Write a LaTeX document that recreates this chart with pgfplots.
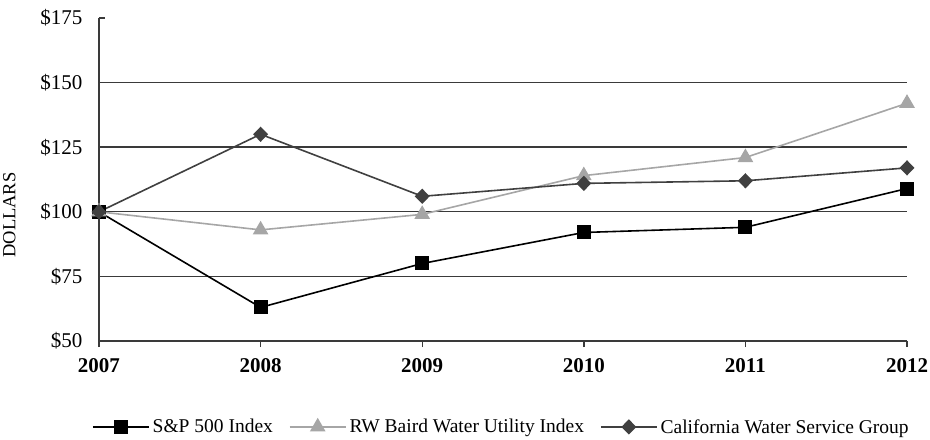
\documentclass[border=0pt]{standalone}
\usepackage{fontspec}
\setmainfont{Liberation Serif}
\usepackage{pgfplots}
\pgfplotsset{compat=1.18}
\definecolor{gridc}{HTML}{3A3A3A}
\definecolor{rwc}{HTML}{A6A6A6}
\definecolor{cwc}{HTML}{404040}
\begin{document}
\begin{tikzpicture}
\begin{axis}[
  name=ax,
  scale only axis,
  width=808bp, height=323bp,
  xmin=2007, xmax=2012, ymin=50, ymax=175,
  axis x line=bottom, axis y line=left,
  axis line style={-, gridc, line width=1.4bp},
  xtick={2007,2008,2009,2010,2011,2012},
  xticklabels={\textbf{2007},\textbf{2008},\textbf{2009},\textbf{2010},\textbf{2011},\textbf{2012}},
  ytick={50,75,100,125,150,175},
  yticklabels={\$50,\$75,\$100,\$125,\$150,\$175},
  extra y ticks={75,100,125,150},
  extra y tick labels={},
  extra y tick style={grid=major, major grid style={gridc, line width=1.4bp}},
  tick align=inside,
  major tick length=6bp,
  tick style={gridc, line width=1.4bp},
  xtick style={yshift=-6bp},
  ticklabel style={font=\fontsize{21bp}{23bp}\selectfont},
  xticklabel style={yshift=-14bp},
  yticklabel style={xshift=-13bp},
  ylabel={DOLLARS},
  ylabel style={font=\fontsize{18.5bp}{20bp}\selectfont, at={(ticklabel cs:0.39)}, yshift=18bp},
  legend columns=3,
  legend style={draw=none, at={(0.498,-0.266)}, anchor=center,
    font=\fontsize{19.5bp}{21bp}\selectfont,
    /tikz/every odd column/.append style={column sep=1bp},
    /tikz/every even column/.append style={column sep=14bp},
    inner sep=0pt},
  legend image code/.code={\draw[mark repeat=2,mark phase=2] plot coordinates {(0bp,0bp) (28bp,0bp) (56bp,0bp)};},
  clip=false,
]
\addplot[black, line width=1.6bp, mark=square*, mark size=6.2bp, mark options={solid}] coordinates {
  (2007,100) (2008,63) (2009,80) (2010,92) (2011,94) (2012,109)};
\addlegendentry{S\&P 500 Index}
\addplot[rwc, line width=1.6bp, mark=triangle*, mark size=7.5bp, mark options={solid}] coordinates {
  (2007,100) (2008,93) (2009,99) (2010,114) (2011,121) (2012,142)};
\addlegendentry{RW Baird Water Utility Index}
\addplot[cwc, line width=1.6bp, mark=diamond*, mark size=6.5bp, mark options={solid, xscale=1.3}] coordinates {
  (2007,100) (2008,130) (2009,106) (2010,111) (2011,112) (2012,117)};
\addlegendentry{California Water Service Group}
\end{axis}
\pgfresetboundingbox
\path ([shift={(-99bp,-99bp)}]ax.south west) rectangle ([shift={(23bp,18bp)}]ax.north east);
\end{tikzpicture}
\end{document}
